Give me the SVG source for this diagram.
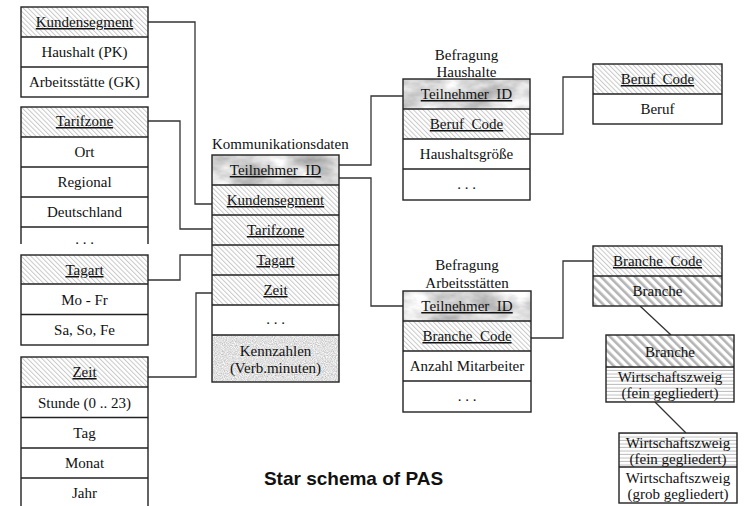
<svg xmlns="http://www.w3.org/2000/svg" width="749" height="506" viewBox="0 0 749 506">
  <style>
    .box { fill: none; stroke: #222; stroke-width: 1.4; }
    .sep { stroke: #222; stroke-width: 1.3; }
    .t { font-family: "Liberation Serif", "Times New Roman", serif; font-size: 15px; fill: #111; text-anchor: middle; }
    .k { text-decoration: underline; }
    .lbl { font-family: "Liberation Serif", "Times New Roman", serif; font-size: 15px; fill: #111; }
    .con { fill: none; stroke: #333; stroke-width: 1.3; }
    .title { font-family: "Liberation Sans", Arial, sans-serif; font-size: 19px; font-weight: bold; fill: #111; text-anchor: middle; }
    .white { fill: #fff; }
    .hatch { fill: url(#hatchLight); }
    .hatchD { fill: url(#hatchDark); }
    .hl { fill: url(#hLines); }
  </style>
  <defs>
    <!-- light diagonal hatching for key attribute headers -->
    <pattern id="hatchLight" patternUnits="userSpaceOnUse" width="3.4" height="3.4" patternTransform="rotate(-45)">
      <rect width="3.4" height="3.4" fill="#fff"/>
      <rect width="1" height="3.4" fill="#c8c8c8"/>
    </pattern>
    <!-- coarser, darker diagonal hatching -->
    <pattern id="hatchDark" patternUnits="userSpaceOnUse" width="6" height="6" patternTransform="rotate(-45)">
      <rect width="6" height="6" fill="#fff"/>
      <rect width="2.6" height="6" fill="#b4b4b4"/>
    </pattern>
    <!-- horizontal line fill -->
    <pattern id="hLines" patternUnits="userSpaceOnUse" width="4" height="3.5">
      <rect width="4" height="3.5" fill="#fff"/>
      <rect width="4" height="1" y="2.5" fill="#bdbdbd"/>
    </pattern>
    <!-- marble texture -->
    <filter id="marble" x="0" y="0" width="1" height="1" color-interpolation-filters="sRGB">
      <feTurbulence type="fractalNoise" baseFrequency="0.03 0.06" numOctaves="4" seed="3"/>
      <feColorMatrix type="matrix" values="0.55 0 0 0 0.56  0.55 0 0 0 0.56  0.55 0 0 0 0.56  0 0 0 0 1"/>
    </filter>
    <!-- granite texture -->
    <filter id="granite" x="0" y="0" width="1" height="1" color-interpolation-filters="sRGB">
      <feTurbulence type="fractalNoise" baseFrequency="0.9" numOctaves="2" seed="7"/>
      <feColorMatrix type="matrix" values="0.4 0 0 0 0.68  0.4 0 0 0 0.68  0.4 0 0 0 0.68  0 0 0 0 1"/>
    </filter>
    <clipPath id="clipTarif">
      <rect x="0" y="100" width="200" height="144"/>
    </clipPath>
  </defs>

  <rect width="749" height="506" fill="#fff"/>

  <!-- connectors -->
  <g id="connectors">
    <polyline class="con" points="148,22 195,22 195,204 212,204"/>
    <polyline class="con" points="148,121 180,121 180,229 212,229"/>
    <polyline class="con" points="148,280 180,280 180,255 212,255"/>
    <polyline class="con" points="148,377 196,377 196,293 212,293"/>
    <polyline class="con" points="339,165 371,165 371,96 403,96"/>
    <polyline class="con" points="339,178 371,178 371,306 403,306"/>
    <polyline class="con" points="530,134 563,134 563,77 593,77"/>
    <polyline class="con" points="531,338 563,338 563,261 593,261"/>
    <line class="con" x1="640" y1="306" x2="671" y2="335"/>
    <line class="con" x1="655" y1="402" x2="686" y2="433"/>
  </g>

  <!-- dimension: Kundensegment -->
  <g id="kundensegment">
    <rect class="hatch" x="21" y="7" width="127" height="30"/>
    <rect class="white" x="21" y="37" width="127" height="60"/>
    <line class="sep" x1="21" y1="37" x2="148" y2="37"/>
    <line class="sep" x1="21" y1="67" x2="148" y2="67"/>
    <rect class="box" x="21" y="7" width="127" height="90"/>
    <text class="t k" x="84.5" y="27">Kundensegment</text>
    <text class="t" x="84.5" y="57">Haushalt (PK)</text>
    <text class="t" x="84.5" y="87">Arbeitsstätte (GK)</text>
  </g>

  <!-- dimension: Tarifzone (lower part cut off) -->
  <g id="tarifzone" clip-path="url(#clipTarif)">
    <rect class="hatch" x="21" y="107" width="127" height="30"/>
    <rect class="white" x="21" y="137" width="127" height="120"/>
    <line class="sep" x1="21" y1="137" x2="148" y2="137"/>
    <line class="sep" x1="21" y1="167" x2="148" y2="167"/>
    <line class="sep" x1="21" y1="197" x2="148" y2="197"/>
    <line class="sep" x1="21" y1="227" x2="148" y2="227"/>
    <rect class="box" x="21" y="107" width="127" height="150"/>
    <text class="t k" x="84.5" y="126">Tarifzone</text>
    <text class="t" x="84.5" y="157">Ort</text>
    <text class="t" x="84.5" y="187">Regional</text>
    <text class="t" x="84.5" y="217">Deutschland</text>
    <text class="t" x="84.5" y="244">. . .</text>
  </g>

  <!-- dimension: Tagart -->
  <g id="tagart">
    <rect class="hatch" x="21" y="255" width="127" height="29"/>
    <rect class="white" x="21" y="284" width="127" height="61"/>
    <line class="sep" x1="21" y1="284" x2="148" y2="284"/>
    <line class="sep" x1="21" y1="314.5" x2="148" y2="314.5"/>
    <rect class="box" x="21" y="255" width="127" height="90"/>
    <text class="t k" x="84.5" y="275">Tagart</text>
    <text class="t" x="84.5" y="305">Mo - Fr</text>
    <text class="t" x="84.5" y="335">Sa, So, Fe</text>
  </g>

  <!-- dimension: Zeit -->
  <g id="zeit">
    <rect class="hatch" x="21" y="357" width="127" height="30"/>
    <rect class="white" x="21" y="387" width="127" height="125"/>
    <line class="sep" x1="21" y1="387" x2="148" y2="387"/>
    <line class="sep" x1="21" y1="417.5" x2="148" y2="417.5"/>
    <line class="sep" x1="21" y1="448" x2="148" y2="448"/>
    <line class="sep" x1="21" y1="478" x2="148" y2="478"/>
    <rect class="box" x="21" y="357" width="127" height="155"/>
    <text class="t k" x="84.5" y="377">Zeit</text>
    <text class="t" x="84.5" y="408">Stunde (0 .. 23)</text>
    <text class="t" x="84.5" y="438">Tag</text>
    <text class="t" x="84.5" y="468">Monat</text>
    <text class="t" x="84.5" y="498">Jahr</text>
  </g>

  <!-- fact table: Kommunikationsdaten -->
  <g id="kommunikationsdaten">
    <text class="lbl" x="212" y="149">Kommunikationsdaten</text>
    <rect x="212" y="155" width="127" height="30" fill="#ccc" filter="url(#marble)"/>
    <rect class="hatch" x="212" y="185" width="127" height="120"/>
    <rect class="white" x="212" y="305" width="127" height="30"/>
    <rect x="212" y="335" width="127" height="47" fill="#ddd" filter="url(#granite)"/>
    <line class="sep" x1="212" y1="185" x2="339" y2="185"/>
    <line class="sep" x1="212" y1="215" x2="339" y2="215"/>
    <line class="sep" x1="212" y1="245" x2="339" y2="245"/>
    <line class="sep" x1="212" y1="275" x2="339" y2="275"/>
    <line class="sep" x1="212" y1="305" x2="339" y2="305"/>
    <line class="sep" x1="212" y1="335" x2="339" y2="335"/>
    <rect class="box" x="212" y="155" width="127" height="227"/>
    <text class="t k" x="275.5" y="175">Teilnehmer_ID</text>
    <text class="t k" x="275.5" y="205">Kundensegment</text>
    <text class="t k" x="275.5" y="235">Tarifzone</text>
    <text class="t k" x="275.5" y="265">Tagart</text>
    <text class="t k" x="275.5" y="295">Zeit</text>
    <text class="t" x="275.5" y="324">. . .</text>
    <text class="t" x="275.5" y="356">Kennzahlen</text>
    <text class="t" x="275.5" y="373">(Verb.minuten)</text>
  </g>

  <!-- Befragung Haushalte -->
  <g id="befragung-haushalte">
    <text class="t" x="466.5" y="60">Befragung</text>
    <text class="t" x="466.5" y="77">Haushalte</text>
    <rect x="403" y="79" width="127" height="30" fill="#ccc" filter="url(#marble)"/>
    <rect class="hatch" x="403" y="109" width="127" height="30"/>
    <rect class="white" x="403" y="139" width="127" height="61"/>
    <line class="sep" x1="403" y1="109" x2="530" y2="109"/>
    <line class="sep" x1="403" y1="139" x2="530" y2="139"/>
    <line class="sep" x1="403" y1="169" x2="530" y2="169"/>
    <rect class="box" x="403" y="79" width="127" height="121"/>
    <text class="t k" x="466.5" y="99">Teilnehmer_ID</text>
    <text class="t k" x="466.5" y="129">Beruf_Code</text>
    <text class="t" x="466.5" y="159">Haushaltsgröße</text>
    <text class="t" x="466.5" y="189">. . .</text>
  </g>

  <!-- Befragung Arbeitsstätten -->
  <g id="befragung-arbeitsstaetten">
    <text class="t" x="467" y="270">Befragung</text>
    <text class="t" x="467" y="288">Arbeitsstätten</text>
    <rect x="403" y="291" width="128" height="30" fill="#ccc" filter="url(#marble)"/>
    <rect class="hatch" x="403" y="321" width="128" height="30"/>
    <rect class="white" x="403" y="351" width="128" height="61"/>
    <line class="sep" x1="403" y1="321" x2="531" y2="321"/>
    <line class="sep" x1="403" y1="351" x2="531" y2="351"/>
    <line class="sep" x1="403" y1="381" x2="531" y2="381"/>
    <rect class="box" x="403" y="291" width="128" height="121"/>
    <text class="t k" x="467" y="311">Teilnehmer_ID</text>
    <text class="t k" x="467" y="341">Branche_Code</text>
    <text class="t" x="467" y="371">Anzahl Mitarbeiter</text>
    <text class="t" x="467" y="401">. . .</text>
  </g>

  <!-- Beruf_Code -->
  <g id="beruf-code">
    <rect class="hatch" x="593" y="64" width="129" height="30"/>
    <rect class="white" x="593" y="94" width="129" height="30"/>
    <line class="sep" x1="593" y1="94" x2="722" y2="94"/>
    <rect class="box" x="593" y="64" width="129" height="60"/>
    <text class="t k" x="657.5" y="84">Beruf_Code</text>
    <text class="t" x="657.5" y="114">Beruf</text>
  </g>

  <!-- Branche_Code -->
  <g id="branche-code">
    <rect class="hatch" x="593" y="246" width="129" height="30"/>
    <rect class="hatchD" x="593" y="276" width="129" height="30"/>
    <line class="sep" x1="593" y1="276" x2="722" y2="276"/>
    <rect class="box" x="593" y="246" width="129" height="60"/>
    <text class="t k" x="657.5" y="266">Branche_Code</text>
    <text class="t" x="657.5" y="296">Branche</text>
  </g>

  <!-- Branche -->
  <g id="branche">
    <rect class="hatchD" x="606" y="335" width="128" height="32"/>
    <rect class="hl" x="606" y="367" width="128" height="35"/>
    <line class="sep" x1="606" y1="367" x2="734" y2="367"/>
    <rect class="box" x="606" y="335" width="128" height="67"/>
    <text class="t" x="670" y="357">Branche</text>
    <text class="t" x="670" y="382">Wirtschaftszweig</text>
    <text class="t" x="670" y="398">(fein gegliedert)</text>
  </g>

  <!-- Wirtschaftszweig -->
  <g id="wirtschaftszweig">
    <rect class="hl" x="619" y="433" width="118" height="34"/>
    <rect class="white" x="619" y="467" width="118" height="36"/>
    <line class="sep" x1="619" y1="467" x2="737" y2="467"/>
    <rect class="box" x="619" y="433" width="118" height="70"/>
    <text class="t" x="678" y="448">Wirtschaftszweig</text>
    <text class="t" x="678" y="464">(fein gegliedert)</text>
    <text class="t" x="678" y="483">Wirtschaftszweig</text>
    <text class="t" x="678" y="499">(grob gegliedert)</text>
  </g>

  <text class="title" x="353.5" y="485">Star schema of PAS</text>
</svg>
